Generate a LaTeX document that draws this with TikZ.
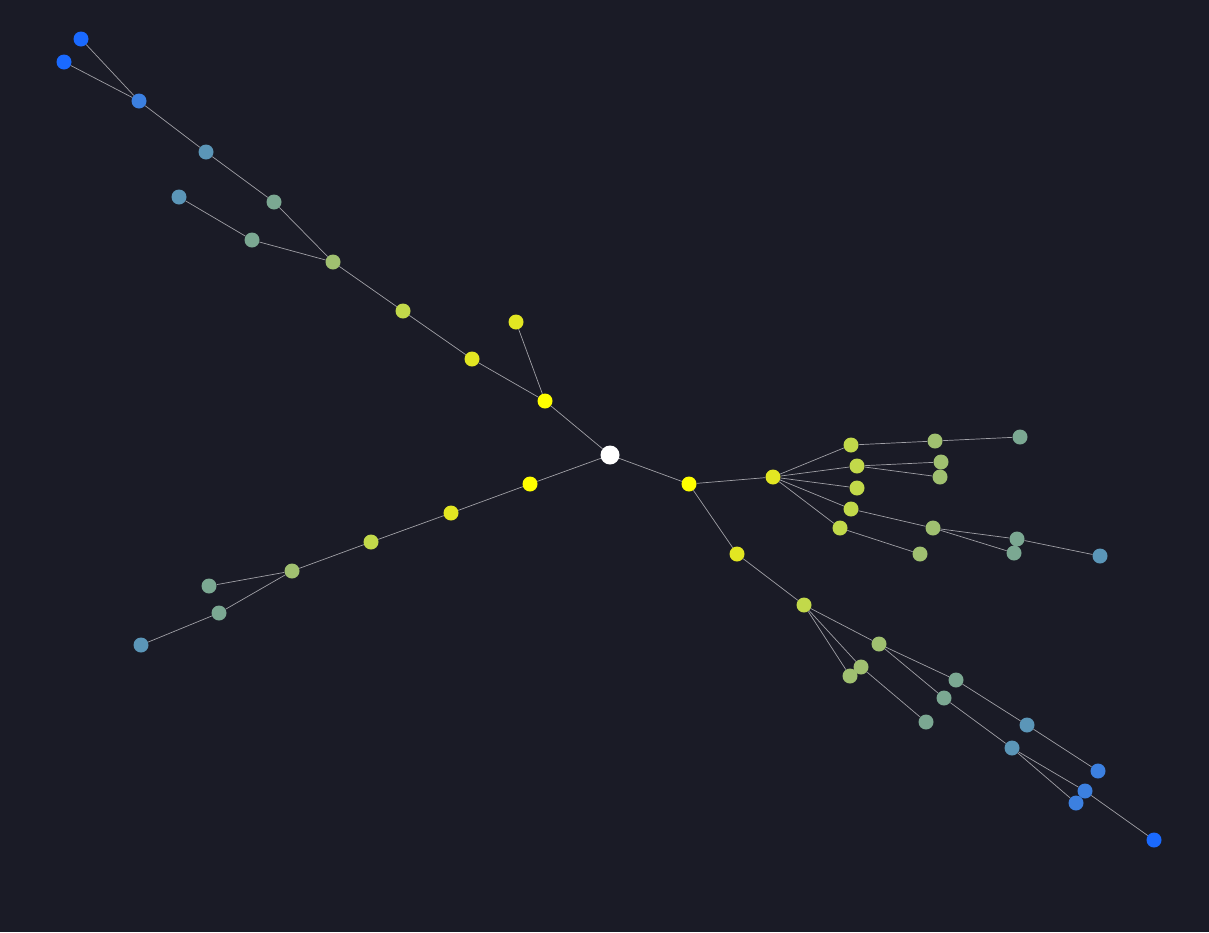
\documentclass[tikz,border=0pt]{standalone}
\begin{document}
\begin{tikzpicture}[x=1pt,y=-1pt,
  dot/.style={circle,inner sep=0pt,minimum size=15pt,draw=none},
  root/.style={dot,minimum size=19pt,fill=white},
  d1/.style={dot,fill=c1},d2/.style={dot,fill=c2},d3/.style={dot,fill=c3},
  d4/.style={dot,fill=c4},d5/.style={dot,fill=c5},d6/.style={dot,fill=c6},
  d7/.style={dot,fill=c7},d8/.style={dot,fill=c8},
  edge/.style={draw=edgec,line width=0.7pt}]
\definecolor{bg}{HTML}{1A1B26}
\definecolor{edgec}{HTML}{A0A0A6}
\definecolor{c1}{HTML}{FFFF00}
\definecolor{c2}{HTML}{E2E622}
\definecolor{c3}{HTML}{C2D94A}
\definecolor{c4}{HTML}{A0C070}
\definecolor{c5}{HTML}{7BA892}
\definecolor{c6}{HTML}{5B96B8}
\definecolor{c7}{HTML}{3C80E0}
\definecolor{c8}{HTML}{1A6AFF}
\fill[bg] (0,0) rectangle (1209,932);
\useasboundingbox (0,0) rectangle (1209,932);
% root
\node[root] (C) at (610,455) {};
% top-left branch
\node[d1] (A1) at (545,401) {};
\node[d2] (A2) at (516,322) {};
\node[d2] (A3) at (472,359) {};
\node[d3] (A4) at (403,311) {};
\node[d4] (A5) at (333,262) {};
\node[d5] (A6) at (274,202) {};
\node[d5] (A7) at (252,240) {};
\node[d6] (A8) at (179,197) {};
\node[d6] (A9) at (206,152) {};
\node[d7] (A10) at (139,101) {};
\node[d8] (A11) at (81,39) {};
\node[d8] (A12) at (64,62) {};
% bottom-left branch
\node[d1] (B1) at (530,484) {};
\node[d2] (B2) at (451,513) {};
\node[d3] (B3) at (371,542) {};
\node[d4] (B4) at (292,571) {};
\node[d5] (B5) at (209,586) {};
\node[d5] (B6) at (219,613) {};
\node[d6] (B7) at (141,645) {};
% right branch
\node[d1] (R1) at (689,484) {};
\node[d2] (R2) at (773,477) {};
\node[d3] (R3) at (851,445) {};
\node[d3] (R4) at (857,466) {};
\node[d3] (R5) at (857,488) {};
\node[d3] (R6) at (851,509) {};
\node[d3] (R7) at (840,528) {};
\node[d4] (R8) at (935,441) {};
\node[d5] (R9) at (1020,437) {};
\node[d4] (R10) at (941,462) {};
\node[d4] (R11) at (940,477) {};
\node[d4] (R12) at (933,528) {};
\node[d4] (R13) at (920,554) {};
\node[d5] (R14) at (1017,539) {};
\node[d5] (R15) at (1014,553) {};
\node[d6] (R16) at (1100,556) {};
% bottom-right branch
\node[d2] (D1) at (737,554) {};
\node[d3] (D2) at (804,605) {};
\node[d4] (D3) at (879,644) {};
\node[d4] (D4) at (861,667) {};
\node[d4] (D5) at (850,676) {};
\node[d5] (D6) at (956,680) {};
\node[d5] (D7) at (944,698) {};
\node[d5] (D8) at (926,722) {};
\node[d6] (D9) at (1027,725) {};
\node[d6] (D10) at (1012,748) {};
\node[d7] (D11) at (1098,771) {};
\node[d7] (D12) at (1085,791) {};
\node[d7] (D13) at (1076,803) {};
\node[d8] (D14) at (1154,840) {};
% edges
\foreach \a/\b in {C/A1,A1/A2,A1/A3,A3/A4,A4/A5,A5/A6,A5/A7,A7/A8,A6/A9,A9/A10,A10/A11,A10/A12,
  C/B1,B1/B2,B2/B3,B3/B4,B4/B5,B4/B6,B6/B7,
  C/R1,R1/R2,R2/R3,R2/R4,R2/R5,R2/R6,R2/R7,R3/R8,R8/R9,R4/R10,R4/R11,R6/R12,R7/R13,R12/R14,R12/R15,R14/R16,
  R1/D1,D1/D2,D2/D3,D2/D4,D2/D5,D3/D6,D3/D7,D4/D8,D6/D9,D7/D10,D9/D11,D10/D12,D10/D13,D12/D14}
  \path[edge] (\a) -- (\b);
\end{tikzpicture}
\end{document}
